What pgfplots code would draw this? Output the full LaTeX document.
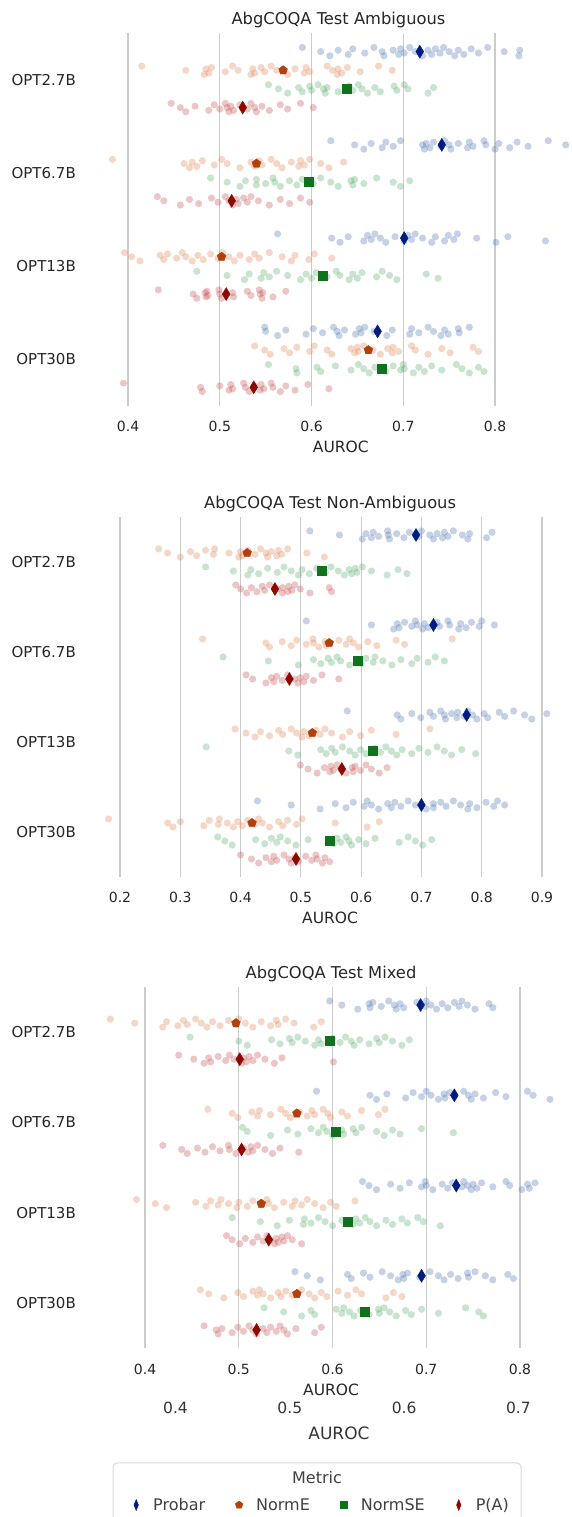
\documentclass[border=0pt]{standalone}
\usepackage{pgfplots}
\pgfplotsset{compat=1.18}
\usepackage{fontspec}
\setmainfont{DejaVu Sans}
\definecolor{pbL}{HTML}{4C72B0}
\definecolor{neL}{HTML}{DD8452}
\definecolor{nsL}{HTML}{55A868}
\definecolor{paL}{HTML}{C44E52}
\definecolor{pbD}{HTML}{001C7F}
\definecolor{neD}{HTML}{B1400D}
\definecolor{nsD}{HTML}{12711C}
\definecolor{paD}{HTML}{8C0800}
\definecolor{txt}{HTML}{262626}
\definecolor{leg}{HTML}{404040}
\newcommand{\fs}[1]{\fontsize{#1}{#1}\selectfont}
\newcommand{\strip}[3]{\addplot[only marks, mark=*, mark size=3.6pt, color=#1, mark options={fill=#1, fill opacity=0.32, draw opacity=0, line width=0pt}] table[row sep=\\, header=false, x index=0, y expr={#2+0.015*(mod(3*\coordindex,7)-3)}] {#3};}
\pgfplotsset{
 pbm/.style={only marks, mark=diamond*, mark size=6.5pt, color=pbD, mark options={xscale=0.8}},
 nem/.style={only marks, mark=pentagon*, mark size=4.6pt, color=neD},
 nsm/.style={only marks, mark=square*, mark size=4.5pt, color=nsD},
 pam/.style={only marks, mark=diamond*, mark size=6.5pt, color=paD, mark options={xscale=0.8}},
 panel/.style={scale only axis, width=467pt, ymin=-0.5, ymax=3.5, y dir=reverse,
  axis line style={draw=none}, major tick length=0pt, xtick style={draw=none}, ytick style={draw=none},
  ytick={0,1,2,3}, yticklabels={OPT2.7B,OPT6.7B,OPT13B,OPT30B},
  xmajorgrids, grid style={color=black!20, line width=1.1pt}, enlargelimits=false,
  /pgf/number format/assume math mode=true, /pgf/number format/fixed, /pgf/number format/precision=1,
  xticklabel style={font=\fs{14}, text=txt, anchor=base, yshift=-26pt},
  yticklabel style={font=\fs{15}, text=txt, anchor=east, inner xsep=0pt, xshift=-29pt},
  xlabel={AUROC}, xlabel style={font=\fs{15.5}, text=txt, anchor=base, yshift=-47pt},
  title style={font=\fs{16.3}, text=txt, anchor=base, yshift=2pt}},
}
\begin{document}
\begin{tikzpicture}
\path[use as bounding box] (0,0) rectangle (572pt,1517pt);
% ---------------- Panel 1
\begin{axis}[panel, at={(105pt,1111pt)}, anchor=south west, height=373pt,
 xmin=0.3749, xmax=0.8839, xtick={0.4,0.5,0.6,0.7,0.8},
 title={AbgCOQA Test Ambiguous}, title style={at={(axis description cs:0.500,1)}},
 xlabel style={at={(axis description cs:0.505,0)}}]
\strip{pbL}{-0.3}{0.590\\0.610\\0.620\\0.629\\0.640\\0.645\\0.658\\0.668\\0.677\\0.679\\0.689\\0.695\\0.697\\0.701\\0.707\\0.713\\0.721\\0.727\\0.731\\0.735\\0.740\\0.744\\0.750\\0.756\\0.760\\0.766\\0.774\\0.782\\0.792\\0.810\\0.826\\0.827\\}
\strip{neL}{-0.1}{0.415\\0.463\\0.483\\0.485\\0.488\\0.491\\0.506\\0.514\\0.520\\0.534\\0.536\\0.538\\0.545\\0.549\\0.556\\0.562\\0.574\\0.582\\0.592\\0.594\\0.598\\0.617\\0.623\\0.628\\0.629\\0.633\\0.639\\0.653\\0.673\\0.688\\}
\strip{nsL}{0.1}{0.553\\0.564\\0.574\\0.586\\0.590\\0.598\\0.600\\0.607\\0.613\\0.615\\0.617\\0.629\\0.641\\0.645\\0.651\\0.655\\0.661\\0.669\\0.675\\0.690\\0.693\\0.701\\0.705\\0.727\\0.733\\}
\strip{paL}{0.3}{0.447\\0.457\\0.463\\0.473\\0.488\\0.494\\0.500\\0.506\\0.508\\0.510\\0.512\\0.515\\0.522\\0.530\\0.534\\0.538\\0.540\\0.546\\0.554\\0.566\\0.574\\0.588\\0.602\\}
\strip{pbL}{0.7}{0.621\\0.647\\0.657\\0.665\\0.677\\0.681\\0.689\\0.697\\0.721\\0.723\\0.725\\0.729\\0.733\\0.741\\0.745\\0.750\\0.752\\0.760\\0.770\\0.772\\0.776\\0.788\\0.790\\0.800\\0.804\\0.816\\0.824\\0.836\\0.858\\0.877\\}
\strip{neL}{0.9}{0.383\\0.461\\0.467\\0.470\\0.475\\0.481\\0.494\\0.502\\0.508\\0.522\\0.534\\0.538\\0.543\\0.546\\0.556\\0.562\\0.568\\0.578\\0.586\\0.588\\0.592\\0.598\\0.610\\0.619\\0.635\\}
\strip{nsL}{1.1}{0.490\\0.508\\0.522\\0.528\\0.540\\0.540\\0.550\\0.558\\0.560\\0.566\\0.576\\0.584\\0.590\\0.602\\0.610\\0.621\\0.629\\0.643\\0.645\\0.647\\0.657\\0.671\\0.689\\0.697\\0.707\\}
\strip{paL}{1.3}{0.432\\0.439\\0.457\\0.467\\0.477\\0.491\\0.498\\0.506\\0.510\\0.514\\0.518\\0.520\\0.526\\0.530\\0.534\\0.542\\0.554\\0.566\\0.576\\0.588\\0.598\\}
\strip{pbL}{1.7}{0.563\\0.622\\0.631\\0.640\\0.657\\0.661\\0.665\\0.669\\0.675\\0.681\\0.691\\0.701\\0.705\\0.709\\0.713\\0.721\\0.731\\0.735\\0.745\\0.749\\0.755\\0.759\\0.780\\0.801\\0.814\\0.855\\}
\strip{neL}{1.9}{0.396\\0.404\\0.413\\0.435\\0.439\\0.443\\0.453\\0.459\\0.463\\0.470\\0.476\\0.482\\0.490\\0.498\\0.503\\0.510\\0.516\\0.522\\0.532\\0.538\\0.543\\0.554\\0.568\\0.578\\0.582\\0.597\\0.603\\0.622\\}
\strip{nsL}{2.1}{0.475\\0.508\\0.527\\0.532\\0.545\\0.548\\0.554\\0.562\\0.574\\0.588\\0.594\\0.600\\0.605\\0.617\\0.627\\0.631\\0.641\\0.645\\0.650\\0.655\\0.671\\0.677\\0.685\\0.693\\0.725\\0.738\\}
\strip{paL}{2.3}{0.433\\0.471\\0.475\\0.484\\0.485\\0.486\\0.487\\0.499\\0.500\\0.502\\0.514\\0.515\\0.530\\0.534\\0.543\\0.544\\0.546\\0.547\\0.558\\0.572\\}
\strip{pbL}{2.7}{0.549\\0.550\\0.563\\0.572\\0.594\\0.602\\0.612\\0.624\\0.628\\0.630\\0.636\\0.648\\0.652\\0.654\\0.658\\0.668\\0.682\\0.688\\0.707\\0.709\\0.717\\0.727\\0.733\\0.741\\0.745\\0.749\\0.760\\0.761\\0.772\\}
\strip{neL}{2.9}{0.538\\0.549\\0.555\\0.570\\0.576\\0.584\\0.598\\0.603\\0.617\\0.622\\0.643\\0.647\\0.650\\0.651\\0.657\\0.667\\0.675\\0.683\\0.688\\0.689\\0.695\\0.709\\0.713\\0.727\\0.742\\0.751\\0.776\\0.782\\}
\strip{nsL}{3.1}{0.553\\0.583\\0.584\\0.606\\0.610\\0.626\\0.643\\0.651\\0.657\\0.663\\0.669\\0.681\\0.689\\0.697\\0.700\\0.701\\0.711\\0.717\\0.723\\0.731\\0.742\\0.758\\0.764\\0.772\\0.782\\0.788\\}
\strip{paL}{3.3}{0.395\\0.479\\0.481\\0.500\\0.510\\0.512\\0.514\\0.526\\0.528\\0.532\\0.538\\0.544\\0.545\\0.548\\0.556\\0.558\\0.566\\0.572\\0.582\\0.596\\0.619\\}
\addplot[pbm] coordinates {(0.718,-0.3) (0.742,0.7) (0.701,1.7) (0.672,2.7)};
\addplot[nem] coordinates {(0.569,-0.1) (0.540,0.9) (0.502,1.9) (0.662,2.9)};
\addplot[nsm] coordinates {(0.638,0.1) (0.597,1.1) (0.612,2.1) (0.676,3.1)};
\addplot[pam] coordinates {(0.525,0.3) (0.513,1.3) (0.507,2.3) (0.537,3.3)};
\end{axis}
% ---------------- Panel 2
\begin{axis}[panel, at={(105pt,640pt)}, anchor=south west, height=360pt,
 xmin=0.1751, xmax=0.9498, xtick={0.2,0.3,0.4,0.5,0.6,0.7,0.8,0.9},
 title={AbgCOQA Test Non-Ambiguous}, title style={at={(axis description cs:0.482,1)}},
 xlabel style={at={(axis description cs:0.482,0)}}]
\strip{pbL}{-0.3}{0.515\\0.564\\0.602\\0.608\\0.617\\0.620\\0.629\\0.644\\0.645\\0.647\\0.659\\0.671\\0.680\\0.696\\0.700\\0.714\\0.720\\0.726\\0.735\\0.738\\0.744\\0.753\\0.768\\0.777\\0.780\\0.808\\0.817\\}
\strip{neL}{-0.1}{0.264\\0.279\\0.300\\0.317\\0.327\\0.342\\0.355\\0.357\\0.381\\0.397\\0.400\\0.403\\0.412\\0.424\\0.433\\0.442\\0.445\\0.451\\0.460\\0.463\\0.468\\0.478\\0.510\\0.539\\}
\strip{nsL}{0.1}{0.342\\0.388\\0.412\\0.417\\0.430\\0.445\\0.461\\0.472\\0.484\\0.496\\0.502\\0.514\\0.526\\0.541\\0.550\\0.562\\0.572\\0.580\\0.584\\0.590\\0.593\\0.602\\0.617\\0.643\\0.661\\0.676\\}
\strip{paL}{0.3}{0.392\\0.400\\0.410\\0.418\\0.427\\0.436\\0.440\\0.448\\0.461\\0.469\\0.470\\0.478\\0.480\\0.485\\0.490\\0.499\\0.515\\0.547\\0.551\\}
\strip{pbL}{0.7}{0.509\\0.617\\0.654\\0.660\\0.663\\0.672\\0.684\\0.690\\0.693\\0.702\\0.705\\0.711\\0.726\\0.730\\0.744\\0.747\\0.762\\0.765\\0.774\\0.783\\0.796\\0.800\\0.821\\}
\strip{neL}{0.9}{0.337\\0.442\\0.448\\0.469\\0.484\\0.493\\0.509\\0.520\\0.521\\0.530\\0.540\\0.542\\0.563\\0.575\\0.581\\0.587\\0.596\\0.611\\0.626\\0.658\\0.672\\0.751\\}
\strip{nsL}{1.1}{0.371\\0.446\\0.496\\0.521\\0.533\\0.545\\0.551\\0.560\\0.566\\0.581\\0.593\\0.600\\0.608\\0.620\\0.623\\0.636\\0.651\\0.666\\0.684\\0.693\\0.711\\0.723\\0.738\\}
\strip{paL}{1.3}{0.409\\0.420\\0.442\\0.451\\0.455\\0.460\\0.469\\0.478\\0.490\\0.495\\0.499\\0.505\\0.509\\0.521\\0.535\\0.563\\}
\strip{pbL}{1.7}{0.577\\0.660\\0.666\\0.684\\0.699\\0.714\\0.720\\0.732\\0.738\\0.740\\0.750\\0.759\\0.760\\0.771\\0.777\\0.785\\0.792\\0.804\\0.810\\0.829\\0.838\\0.853\\0.871\\0.883\\0.908\\}
\strip{neL}{1.9}{0.391\\0.409\\0.424\\0.433\\0.448\\0.463\\0.470\\0.484\\0.493\\0.502\\0.505\\0.514\\0.525\\0.532\\0.540\\0.551\\0.569\\0.581\\0.599\\0.617\\0.658\\0.714\\}
\strip{nsL}{2.1}{0.343\\0.480\\0.495\\0.533\\0.542\\0.551\\0.557\\0.569\\0.581\\0.590\\0.599\\0.608\\0.623\\0.632\\0.641\\0.650\\0.659\\0.668\\0.684\\0.696\\0.711\\0.726\\0.738\\0.750\\0.767\\0.790\\}
\strip{paL}{2.3}{0.499\\0.512\\0.527\\0.539\\0.548\\0.550\\0.554\\0.560\\0.566\\0.575\\0.585\\0.587\\0.590\\0.599\\0.608\\0.617\\0.630\\0.643\\}
\strip{pbL}{2.7}{0.428\\0.484\\0.532\\0.557\\0.575\\0.587\\0.605\\0.610\\0.617\\0.629\\0.644\\0.650\\0.656\\0.666\\0.678\\0.690\\0.708\\0.720\\0.720\\0.732\\0.741\\0.753\\0.765\\0.777\\0.780\\0.792\\0.807\\0.820\\0.826\\0.838\\}
\strip{neL}{2.9}{0.181\\0.279\\0.288\\0.300\\0.339\\0.348\\0.363\\0.365\\0.378\\0.388\\0.395\\0.403\\0.412\\0.424\\0.430\\0.436\\0.448\\0.463\\0.470\\0.478\\0.493\\0.502\\0.557\\0.610\\0.630\\}
\strip{nsL}{3.1}{0.362\\0.374\\0.386\\0.425\\0.440\\0.451\\0.460\\0.466\\0.478\\0.492\\0.512\\0.554\\0.560\\0.566\\0.575\\0.580\\0.584\\0.596\\0.608\\0.623\\0.663\\0.678\\0.690\\0.702\\0.717\\}
\strip{paL}{3.3}{0.400\\0.418\\0.430\\0.442\\0.451\\0.455\\0.460\\0.472\\0.480\\0.484\\0.490\\0.496\\0.508\\0.518\\0.525\\0.527\\0.536\\0.540\\0.548\\}
\addplot[pbm] coordinates {(0.691,-0.3) (0.720,0.7) (0.775,1.7) (0.700,2.7)};
\addplot[nem] coordinates {(0.411,-0.1) (0.547,0.9) (0.519,1.9) (0.419,2.9)};
\addplot[nsm] coordinates {(0.534,0.1) (0.594,1.1) (0.619,2.1) (0.548,3.1)};
\addplot[pam] coordinates {(0.457,0.3) (0.481,1.3) (0.568,2.3) (0.492,3.3)};
\end{axis}
% ---------------- Panel 3
\begin{axis}[panel, at={(105pt,169pt)}, anchor=south west, height=361pt,
 xmin=0.3573, xmax=0.8555, xtick={0.4,0.5,0.6,0.7,0.8},
 title={AbgCOQA Test Mixed}, title style={at={(axis description cs:0.484,1)}},
 xlabel style={at={(axis description cs:0.484,0)}}]
\strip{pbL}{-0.3}{0.597\\0.610\\0.627\\0.639\\0.640\\0.643\\0.652\\0.660\\0.666\\0.668\\0.672\\0.676\\0.690\\0.699\\0.700\\0.705\\0.711\\0.717\\0.723\\0.730\\0.735\\0.738\\0.744\\0.752\\0.767\\0.771\\}
\strip{neL}{-0.1}{0.363\\0.389\\0.419\\0.423\\0.435\\0.441\\0.445\\0.454\\0.460\\0.466\\0.472\\0.480\\0.489\\0.497\\0.500\\0.507\\0.515\\0.524\\0.534\\0.540\\0.542\\0.550\\0.559\\0.580\\0.588\\}
\strip{nsL}{0.1}{0.448\\0.500\\0.509\\0.535\\0.544\\0.554\\0.557\\0.563\\0.571\\0.581\\0.585\\0.588\\0.600\\0.608\\0.614\\0.620\\0.623\\0.629\\0.639\\0.647\\0.650\\0.656\\0.664\\0.674\\0.682\\}
\strip{paL}{0.3}{0.436\\0.452\\0.463\\0.468\\0.470\\0.478\\0.486\\0.490\\0.495\\0.503\\0.505\\0.508\\0.511\\0.515\\0.520\\0.528\\0.538\\0.546\\0.601\\}
\strip{pbL}{0.7}{0.583\\0.640\\0.647\\0.658\\0.678\\0.686\\0.695\\0.700\\0.705\\0.713\\0.719\\0.720\\0.725\\0.730\\0.740\\0.745\\0.748\\0.752\\0.761\\0.774\\0.785\\0.808\\0.814\\0.832\\}
\strip{neL}{0.9}{0.467\\0.493\\0.499\\0.514\\0.520\\0.522\\0.534\\0.545\\0.550\\0.555\\0.565\\0.573\\0.578\\0.581\\0.590\\0.595\\0.598\\0.610\\0.616\\0.631\\0.649\\0.656\\}
\strip{nsL}{1.1}{0.504\\0.509\\0.534\\0.552\\0.563\\0.577\\0.585\\0.590\\0.594\\0.600\\0.610\\0.612\\0.622\\0.625\\0.631\\0.647\\0.655\\0.664\\0.672\\0.695\\0.729\\}
\strip{paL}{1.3}{0.419\\0.439\\0.445\\0.456\\0.464\\0.472\\0.480\\0.489\\0.490\\0.497\\0.505\\0.510\\0.513\\0.515\\0.520\\0.528\\0.536\\0.544\\0.564\\}
\strip{pbL}{1.7}{0.632\\0.639\\0.647\\0.662\\0.672\\0.682\\0.695\\0.699\\0.700\\0.707\\0.717\\0.723\\0.728\\0.738\\0.740\\0.744\\0.748\\0.750\\0.754\\0.759\\0.771\\0.785\\0.789\\0.802\\0.808\\0.810\\0.816\\}
\strip{neL}{1.9}{0.391\\0.411\\0.423\\0.454\\0.465\\0.470\\0.478\\0.481\\0.489\\0.498\\0.500\\0.509\\0.515\\0.524\\0.530\\0.532\\0.538\\0.548\\0.557\\0.560\\0.567\\0.573\\0.581\\0.590\\0.598\\0.604\\0.624\\}
\strip{nsL}{2.1}{0.493\\0.523\\0.541\\0.554\\0.569\\0.570\\0.577\\0.585\\0.592\\0.600\\0.610\\0.622\\0.625\\0.629\\0.635\\0.640\\0.647\\0.657\\0.664\\0.674\\0.680\\0.691\\0.697\\0.715\\}
\strip{paL}{2.3}{0.487\\0.493\\0.501\\0.507\\0.515\\0.520\\0.526\\0.530\\0.534\\0.538\\0.540\\0.542\\0.546\\0.548\\0.552\\0.557\\0.567\\}
\strip{pbL}{2.7}{0.560\\0.573\\0.587\\0.616\\0.620\\0.633\\0.640\\0.653\\0.662\\0.670\\0.675\\0.676\\0.680\\0.693\\0.704\\0.713\\0.719\\0.726\\0.734\\0.744\\0.745\\0.752\\0.763\\0.771\\0.787\\0.793\\}
\strip{neL}{2.9}{0.459\\0.468\\0.484\\0.499\\0.505\\0.515\\0.520\\0.522\\0.526\\0.534\\0.542\\0.545\\0.550\\0.557\\0.567\\0.575\\0.581\\0.588\\0.594\\0.606\\0.616\\0.625\\0.631\\0.657\\0.665\\0.674\\}
\strip{nsL}{3.1}{0.527\\0.548\\0.567\\0.577\\0.581\\0.604\\0.610\\0.612\\0.618\\0.623\\0.630\\0.639\\0.649\\0.650\\0.655\\0.661\\0.668\\0.678\\0.684\\0.695\\0.713\\0.742\\0.756\\0.761\\}
\strip{paL}{3.3}{0.463\\0.476\\0.478\\0.482\\0.493\\0.499\\0.505\\0.511\\0.515\\0.519\\0.526\\0.530\\0.534\\0.540\\0.544\\0.548\\0.552\\0.561\\0.581\\0.588\\}
\addplot[pbm] coordinates {(0.694,-0.3) (0.730,0.7) (0.732,1.7) (0.695,2.7)};
\addplot[nem] coordinates {(0.497,-0.1) (0.562,0.9) (0.524,1.9) (0.562,2.9)};
\addplot[nsm] coordinates {(0.597,0.1) (0.603,1.1) (0.616,2.1) (0.634,3.1)};
\addplot[pam] coordinates {(0.501,0.3) (0.503,1.3) (0.532,2.3) (0.519,3.3)};
\end{axis}
% ---------------- legend frame
\draw[black!15, line width=1pt, rounded corners=4pt, fill=white] (113pt,54pt) rectangle (521pt,-14pt);
\node[font=\fs{16}, text=leg] at (317pt,39pt) {Metric};
% ---------------- ghost axis with legend
\begin{axis}[scale only axis, at={(105pt,131pt)}, anchor=south west, width=467pt, height=2pt,
 xmin=0.3383, xmax=0.7469, ymin=0, ymax=1, axis line style={draw=none}, major tick length=0pt,
 xtick style={draw=none}, xtick={0.4,0.5,0.6,0.7}, ytick=\empty,
 /pgf/number format/assume math mode=true, /pgf/number format/fixed, /pgf/number format/precision=1,
 xticklabel style={font=\fs{15.5}, text=black!80, anchor=base, yshift=-27.7pt},
 xlabel={AUROC}, xlabel style={font=\fs{17}, text=black!80, anchor=base, yshift=-53.2pt, at={(axis description cs:0.501,0)}},
 legend image code/.code={\path[draw=none, fill=none] (-6pt,-4pt) rectangle (6pt,4pt); \draw[#1] plot coordinates {(0pt,0pt)};},
 legend columns=4,
 legend style={at={(0,0)}, anchor=west, xshift=25pt, yshift=-119pt, draw=none, fill=none, inner sep=0pt,
  nodes={inner xsep=0pt, inner ysep=1pt, font=\fs{16}, text=leg},
  /tikz/every odd column/.append style={column sep=11pt},
  /tikz/every even column/.append style={column sep=28pt}}]
\addlegendimage{mark=diamond*, mark size=5.5pt, color=pbD, mark options={xscale=0.55}}
\addlegendentry{Probar}
\addlegendimage{mark=pentagon*, mark size=4pt, color=neD}
\addlegendentry{NormE}
\addlegendimage{mark=square*, mark size=3.6pt, color=nsD}
\addlegendentry{NormSE}
\addlegendimage{mark=diamond*, mark size=5.5pt, color=paD, mark options={xscale=0.55}}
\addlegendentry{P(A)}
\end{axis}
\end{tikzpicture}
\end{document}
